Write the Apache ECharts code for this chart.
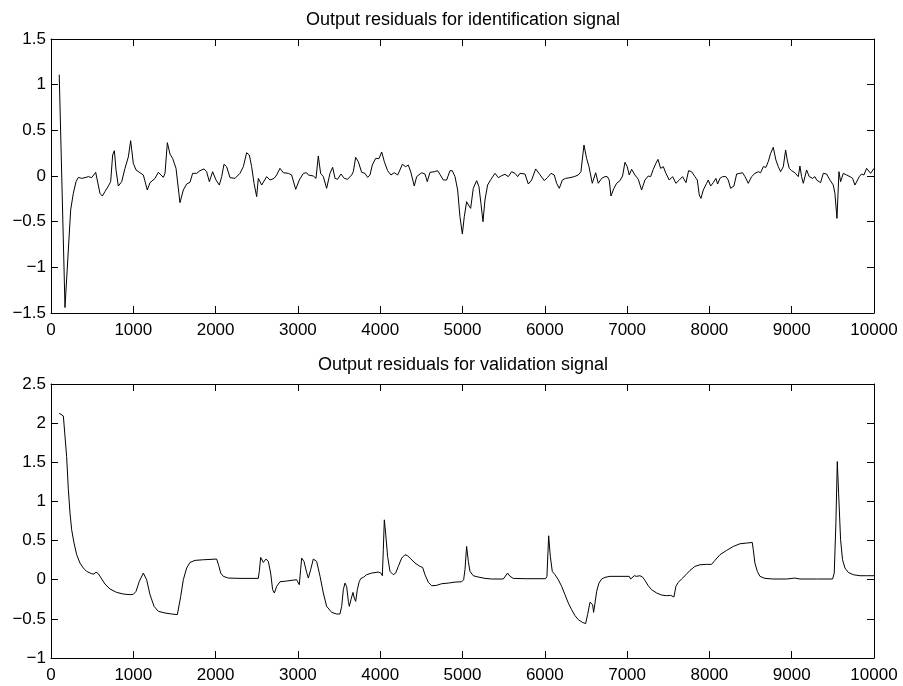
<!DOCTYPE html>
<html><head><meta charset="utf-8">
<script src="https://cdn.jsdelivr.net/npm/echarts@6/dist/echarts.min.js"></script>
<style>html,body{margin:0;padding:0;background:#fff}#c{width:903px;height:686px}</style>
</head><body><div id="c"></div>
<script>
// ---- data ----
const xTicks = [0,1000,2000,3000,4000,5000,6000,7000,8000,9000,10000];
const topYTicks = [-1.5,-1,-0.5,0,0.5,1,1.5];
const botYTicks = [-1,-0.5,0,0.5,1,1.5,2,2.5];
const topTitle = 'Output residuals for identification signal';
const botTitle = 'Output residuals for validation signal';

const idX = [100,170,239,271,304,332,373,413,454,494,543,595,624,656,697,725,749,770,790,818,859,899,940,968,1000,1033,1081,1122,1170,1203,1264,1304,1365,1385,1414,1446,1478,1519,1567,1608,1648,1689,1721,1770,1810,1859,1891,1924,1964,2005,2045,2074,2102,2134,2175,2236,2296,2337,2377,2410,2438,2467,2499,2519,2560,2620,2661,2710,2742,2782,2823,2884,2924,2973,3017,3066,3106,3127,3187,3220,3248,3276,3309,3349,3390,3422,3451,3483,3523,3564,3604,3653,3673,3702,3734,3775,3815,3847,3876,3904,3945,3985,4018,4050,4090,4131,4171,4212,4240,4269,4309,4342,4374,4414,4443,4504,4544,4572,4605,4657,4698,4726,4767,4807,4848,4876,4909,4941,4969,4998,5022,5050,5079,5099,5131,5172,5200,5224,5249,5273,5305,5346,5395,5435,5476,5516,5557,5597,5638,5670,5698,5759,5800,5840,5889,5929,5994,6034,6075,6115,6144,6176,6213,6253,6306,6358,6407,6439,6476,6508,6537,6577,6618,6650,6691,6731,6759,6783,6804,6840,6873,6913,6945,6974,7002,7026,7055,7095,7136,7176,7217,7257,7286,7318,7350,7375,7407,7440,7472,7512,7553,7593,7634,7674,7715,7747,7784,7824,7853,7877,7897,7926,7966,7986,8015,8047,8079,8100,8128,8160,8201,8229,8258,8298,8331,8371,8403,8432,8472,8513,8553,8594,8622,8655,8687,8715,8744,8776,8808,8837,8865,8898,8926,8946,8970,8999,9039,9080,9100,9120,9141,9153,9181,9213,9254,9282,9303,9327,9351,9384,9424,9465,9505,9525,9550,9574,9594,9627,9667,9708,9740,9768,9789,9821,9849,9878,9910,9930,9959,9983,10000];
const idY = [1.11,-1.44,-0.372,-0.19,-0.062,-0.015,-0.026,-0.018,-0.007,-0.018,0.04,-0.19,-0.219,-0.17,-0.11,-0.062,0.23,0.277,0.066,-0.11,-0.062,0.084,0.21,0.387,0.139,0.066,0.036,0.011,-0.153,-0.073,-0.026,0.04,-0.015,0.029,0.365,0.24,0.193,0.084,-0.292,-0.153,-0.088,-0.069,0.029,0.029,0.058,0.077,0.047,-0.062,0.047,-0.044,-0.099,-0.007,0.128,0.102,-0.018,-0.026,0.029,0.102,0.255,0.23,0.102,-0.08,-0.226,-0.026,-0.099,-0.007,-0.044,-0.026,0.011,0.084,0.036,0.029,0.011,-0.146,-0.044,0.029,0.036,0.011,0,-0.026,0.219,0.029,-0.007,-0.135,0.029,0.095,-0.026,-0.036,0.022,-0.026,-0.036,0.011,0.047,0.204,0.157,0.04,0.029,-0.015,0.011,0.12,0.193,0.19,0.263,0.157,0.058,0.011,0.036,0.011,0.066,0.128,0.102,0.12,0.036,-0.11,-0.007,0.036,0.022,-0.062,0.04,0.047,0.058,0.018,-0.044,-0.044,0.058,0.058,-0.007,-0.153,-0.445,-0.635,-0.445,-0.281,-0.328,-0.354,-0.135,-0.051,-0.117,-0.3,-0.5,-0.263,-0.099,-0.036,0.029,-0.018,0.004,0.018,-0.007,0.047,0.029,-0.007,0.029,0.022,-0.088,-0.044,0.077,0.029,-0.051,-0.015,0.029,0.011,-0.08,-0.135,-0.044,-0.026,-0.018,-0.007,0.011,0.047,0.339,0.193,0.102,-0.08,0.036,-0.08,-0.026,-0.007,-0.007,-0.044,-0.219,-0.135,-0.08,-0.051,0,0.15,0.102,0.011,0.073,0.011,-0.036,-0.153,-0.044,0,-0.007,0.073,0.139,0.182,0.084,0.102,0.029,-0.044,-0.007,-0.08,-0.044,-0.007,-0.073,0.058,0.047,-0.007,-0.044,-0.208,-0.245,-0.153,-0.08,-0.044,-0.11,-0.073,-0.026,-0.088,-0.026,-0.007,-0.007,-0.044,-0.135,-0.11,0.022,0.029,0.036,-0.007,-0.08,-0.007,0.029,0.047,0.036,0.102,0.095,0.157,0.248,0.314,0.175,0.102,0.047,0.102,0.285,0.175,0.084,0.058,0.036,-0.007,0.109,-0.007,-0.08,-0.099,0.066,-0.007,-0.026,-0.007,-0.044,-0.026,-0.073,0.029,0.022,-0.044,-0.099,-0.19,-0.464,0.047,-0.062,0.029,0.011,-0.007,-0.026,-0.099,-0.08,-0.007,0.022,0.011,0.084,0.095,0.029,0.011,0.084];

const valX = [100,150,170,190,211,231,251,280,312,352,393,433,494,523,547,575,616,656,717,798,879,960,1000,1033,1073,1122,1162,1203,1252,1304,1385,1466,1535,1547,1576,1608,1648,1689,1750,1851,2013,2025,2041,2062,2094,2155,2296,2519,2531,2548,2580,2612,2641,2669,2693,2714,2742,2782,2863,2985,3005,3017,3033,3046,3074,3106,3127,3155,3187,3208,3228,3269,3309,3349,3390,3410,3471,3511,3532,3552,3572,3592,3613,3625,3645,3669,3685,3702,3722,3746,3766,3795,3835,3896,3977,4009,4026,4038,4050,4066,4090,4119,4159,4188,4220,4261,4301,4333,4374,4423,4483,4516,4544,4585,4625,4686,4747,4828,4909,4990,5014,5030,5050,5071,5091,5131,5192,5273,5354,5496,5516,5548,5577,5617,5759,6010,6026,6047,6067,6091,6124,6164,6205,6245,6286,6326,6367,6407,6456,6496,6520,6549,6569,6581,6593,6610,6630,6658,6691,6731,6792,6913,7026,7043,7063,7087,7116,7156,7188,7217,7257,7298,7359,7419,7480,7529,7549,7569,7593,7622,7662,7715,7764,7824,7885,7966,8027,8067,8128,8209,8290,8371,8452,8521,8533,8553,8582,8614,8675,8776,8938,9039,9100,9303,9497,9517,9537,9554,9570,9594,9618,9647,9687,9748,9829,9910,10000];
const valY = [2.126,2.092,2.083,1.573,1.148,0.85,0.638,0.468,0.319,0.213,0.149,0.106,0.077,0.072,0.098,0.077,0.009,-0.055,-0.119,-0.162,-0.183,-0.191,-0.187,-0.149,-0.021,0.085,0,-0.191,-0.34,-0.404,-0.425,-0.438,-0.446,-0.425,-0.213,0,0.149,0.221,0.247,0.255,0.264,0.255,0.17,0.085,0.043,0.021,0.017,0.017,0.106,0.285,0.221,0.264,0.234,0.085,-0.128,-0.17,-0.085,-0.026,-0.017,0,0,-0.064,0.128,0.276,0.234,0.094,0.021,0.128,0.264,0.276,0.234,0.043,-0.17,-0.34,-0.391,-0.417,-0.438,-0.438,-0.34,-0.128,-0.043,-0.085,-0.276,-0.34,-0.255,-0.162,-0.234,-0.276,-0.128,-0.021,0.017,0.03,0.064,0.085,0.098,0.085,0.051,0.383,0.765,0.595,0.298,0.106,0.064,0.085,0.17,0.276,0.319,0.306,0.264,0.213,0.17,0.157,0.064,-0.034,-0.077,-0.072,-0.051,-0.043,-0.03,-0.026,0,0.128,0.425,0.234,0.106,0.051,0.034,0.017,0.009,0.009,0.034,0.085,0.043,0.017,0.013,0.013,0.043,0.561,0.298,0.106,0.064,0,-0.085,-0.191,-0.298,-0.383,-0.459,-0.51,-0.544,-0.561,-0.446,-0.289,-0.276,-0.319,-0.417,-0.298,-0.149,-0.043,0.009,0.03,0.043,0.043,0.043,0.009,0.034,0.051,0.043,0.051,0.034,-0.009,-0.077,-0.128,-0.17,-0.196,-0.204,-0.2,-0.179,-0.221,-0.085,-0.034,0.009,0.064,0.119,0.17,0.191,0.196,0.196,0.247,0.319,0.374,0.425,0.459,0.468,0.476,0.383,0.213,0.106,0.043,0.017,0.009,0.009,0.021,0.009,0.009,0.009,0.085,0.723,1.509,1.105,0.51,0.255,0.149,0.094,0.064,0.051,0.051,0.051];

// ---- chart ----
const FONT = '"Liberation Sans", Arial, Helvetica, sans-serif';
const FS = 17;
const TFS = 18;
const fmt = v => (v < 0 ? '\u2212' + String(-v) : String(v));
const zip = (xs, ys) => xs.map((x, i) => [x, ys[i]]);

function xAxes(grid, ticks) {
  const base = {
    gridIndex: grid, type: 'value',
    min: ticks[0], max: ticks[ticks.length - 1], interval: ticks[1] - ticks[0],
    axisLine: { show: true, onZero: false, lineStyle: { color: '#000', width: 1 } },
    axisTick: { show: true, inside: true, length: 7, lineStyle: { color: '#000', width: 1 } },
    splitLine: { show: false }
  };
  return [
    Object.assign({}, base, { position: 'bottom',
      axisLabel: { show: true, color: '#000', fontSize: FS, fontFamily: FONT, margin: 9, formatter: fmt, showMinLabel: true, showMaxLabel: true } }),
    Object.assign({}, base, { position: 'top', axisLabel: { show: false } })
  ];
}
function yAxes(grid, ticks) {
  const base = {
    gridIndex: grid, type: 'value',
    min: ticks[0], max: ticks[ticks.length - 1], interval: ticks[1] - ticks[0],
    axisLine: { show: true, onZero: false, lineStyle: { color: '#000', width: 1 } },
    axisTick: { show: true, inside: true, length: 7, lineStyle: { color: '#000', width: 1 } },
    splitLine: { show: false }
  };
  return [
    Object.assign({}, base, { position: 'left',
      axisLabel: { show: true, color: '#000', fontSize: FS, fontFamily: FONT, margin: 5, formatter: fmt, showMinLabel: true, showMaxLabel: true } }),
    Object.assign({}, base, { position: 'right', axisLabel: { show: false } })
  ];
}

const chart = echarts.init(document.getElementById('c'), null, { renderer: 'canvas' });
chart.setOption({
  backgroundColor: '#fff',
  animation: false,
  title: [
    { text: topTitle, left: 463, top: 11, textAlign: 'center', padding: 0,
      textStyle: { color: '#000', fontWeight: 'normal', fontSize: TFS, fontFamily: FONT } },
    { text: botTitle, left: 463, top: 356, textAlign: 'center', padding: 0,
      textStyle: { color: '#000', fontWeight: 'normal', fontSize: TFS, fontFamily: FONT } }
  ],
  grid: [
    { left: 51, top: 39, width: 823, height: 274, containLabel: false },
    { left: 51, top: 384, width: 823, height: 274, containLabel: false }
  ],
  xAxis: [].concat(xAxes(0, xTicks), xAxes(1, xTicks)),
  yAxis: [].concat(yAxes(0, topYTicks), yAxes(1, botYTicks)),
  series: [
    { type: 'line', xAxisIndex: 0, yAxisIndex: 0, data: zip(idX, idY),
      showSymbol: false, symbol: 'none', lineStyle: { color: '#000', width: 1 }, itemStyle: { color: '#000' } },
    { type: 'line', xAxisIndex: 2, yAxisIndex: 2, data: zip(valX, valY),
      showSymbol: false, symbol: 'none', lineStyle: { color: '#000', width: 1 }, itemStyle: { color: '#000' } }
  ]
});
</script>
</body></html>
